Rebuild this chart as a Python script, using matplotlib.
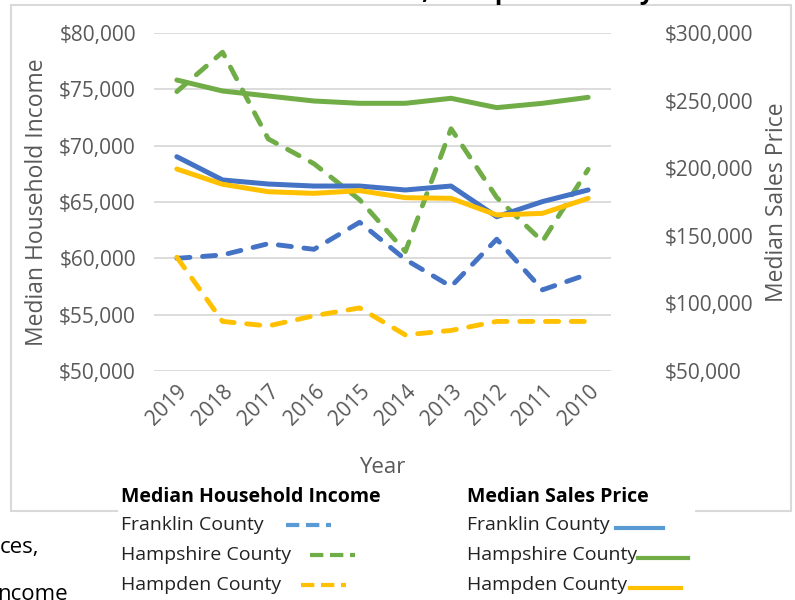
import matplotlib
matplotlib.use("Agg")
import matplotlib.pyplot as plt
from matplotlib.lines import Line2D
from matplotlib.patches import Rectangle
from matplotlib.ticker import FuncFormatter

plt.rcParams['font.family'] = ['Open Sans', 'DejaVu Sans']

years = ["2019", "2018", "2017", "2016", "2015", "2014", "2013", "2012", "2011", "2010"]

# median household income (left axis)
income_franklin = [60000, 60300, 61300, 60800, 63200, 59900, 57500, 61700, 57200, 58600]
income_hampshire = [74800, 78300, 70600, 68400, 65200, 60600, 71500, 65400, 61500, 67900]
income_hampden = [60100, 54400, 54000, 54900, 55600, 53200, 53600, 54400, 54400, 54400]

# median sales price (right axis)
price_franklin = [208500, 191300, 188300, 186800, 186800, 183900, 186800, 164100, 175300, 183900]
price_hampshire = [265200, 257100, 253400, 249700, 248000, 248000, 251700, 244800, 248000, 252400]
price_hampden = [199400, 188100, 182600, 181400, 183400, 178200, 177700, 165400, 166600, 177700]

counties = ["Franklin County", "Hampshire County", "Hampden County"]
colors = ["#4472C4", "#70AD47", "#FFC000"]
legend_colors = ["#5B9BD5", "#70AD47", "#FFC000"]

grey = "#595959"
money = FuncFormatter(lambda v, p: "${:,.0f}".format(v))
W, H = 795, 600

fig = plt.figure(figsize=(7.95, 6.0), dpi=100)

# chart frame
fig.patches.append(Rectangle((11 / W, 1 - 511 / H), 780 / W, 506 / H,
                             transform=fig.transFigure, fill=False,
                             edgecolor="#D9D9D9", linewidth=1.5, zorder=0))

ax = fig.add_axes([154 / W, 1 - 371 / H, 457 / W, 338 / H])
ax2 = ax.twinx()

x = list(range(len(years)))
for vals, c in zip([income_franklin, income_hampshire, income_hampden], colors):
    ax.plot(x, vals, color=c, linewidth=3.5, linestyle=(0, (2.7, 2.6)),
            dash_capstyle="round")
for vals, c in zip([price_franklin, price_hampshire, price_hampden], colors):
    ax2.plot(x, vals, color=c, linewidth=3.6, solid_capstyle="round")

ax.set_ylim(50000, 80000)
ax.set_yticks(range(50000, 80001, 5000))
ax2.set_ylim(50000, 300000)
ax2.set_yticks(range(50000, 300001, 50000))
ax.set_xlim(-0.5, len(years) - 0.5)
ax.set_xticks(x)
ax.set_xticklabels(years, rotation=45, ha="right", rotation_mode="anchor")
ax.yaxis.set_major_formatter(money)
ax2.yaxis.set_major_formatter(money)

ax.grid(axis="y", color="#D9D9D9", linewidth=1.3)
ax.set_axisbelow(True)
for a in (ax, ax2):
    for s in a.spines.values():
        s.set_visible(False)
    a.tick_params(length=0, labelsize=15, colors=grey)
ax.tick_params(axis="y", pad=13)
ax2.tick_params(axis="y", pad=39)
ax.tick_params(axis="x", pad=7)

ax.set_xlabel("Year", fontsize=16, color=grey, labelpad=20)
ax.set_ylabel("Median Household Income", fontsize=16.5, color=grey, labelpad=7)
ax2.set_ylabel("Median Sales Price", fontsize=16.5, color=grey, labelpad=8)

# clipped title above the figure
fig.text(0.53, 1 + 1 / H, "Household Income, Hampden County", ha="center", va="baseline",
         fontsize=18, fontweight="bold")

# surrounding document text
fig.text(0.0, 1 - 548 / H, "ces,", fontsize=16, va="center")
fig.text(-0.004, 1 - 594 / H, "ncome", fontsize=16, va="center")

# legend area
fig.patches.append(Rectangle((118 / W, 0), 577 / W, 114 / H,
                             transform=fig.transFigure, facecolor="white",
                             edgecolor="none", zorder=1))

fig.text(121 / W, 1 - 497 / H, "Median Household Income", fontsize=14,
         fontweight="bold", va="center", color="black", zorder=3)
fig.text(467 / W, 1 - 497 / H, "Median Sales Price", fontsize=14,
         fontweight="bold", va="center", color="black", zorder=3)

rows = [525, 555, 585]
dash_x = [(286, 331), (310, 355), (301, 346)]
solid_x = [(616, 663), (638, 688), (630, 681)]
for i, name in enumerate(counties):
    y = 1 - rows[i] / H
    fig.text(121 / W, y, name, fontsize=14, va="center", color="#222222", zorder=3)
    fig.text(467 / W, y, name, fontsize=14, va="center", color="#222222", zorder=3)
    x0, x1 = dash_x[i]
    fig.lines.append(Line2D([x0 / W, x1 / W], [y, y], transform=fig.transFigure,
                            color=legend_colors[i], linewidth=3,
                            linestyle=(0, (3.2, 1.6)), zorder=3))
    x0, x1 = solid_x[i]
    fig.lines.append(Line2D([x0 / W, x1 / W], [y - 3 / H, y - 3 / H], transform=fig.transFigure,
                            color=legend_colors[i], linewidth=3, zorder=3))

fig.savefig("out.png", dpi=100)
